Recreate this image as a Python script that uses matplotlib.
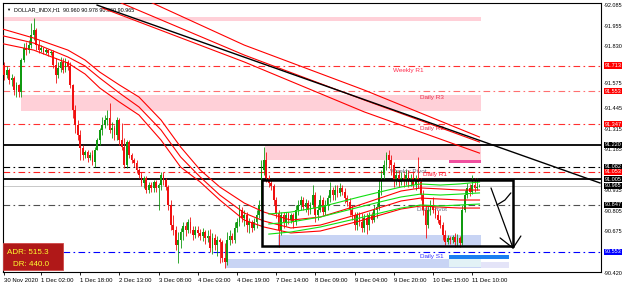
import numpy as np
import matplotlib.pyplot as plt
from matplotlib.patches import Rectangle
from matplotlib.transforms import blended_transform_factory

# ---- data (DOLLAR_INDX, H1) ----
first_open = 91.716
closes = [91.654, 91.685, 91.623, 91.635, 91.560, 91.592, 91.548, 91.747, 91.822, 91.809,
          91.840, 91.903, 91.934, 91.840, 91.809, 91.822, 91.797, 91.809, 91.791, 91.797,
          91.716, 91.654, 91.697, 91.735, 91.685, 91.735, 91.710, 91.592, 91.436, 91.343,
          91.280, 91.200, 91.156, 91.175, 91.137, 91.156, 91.112, 91.187, 91.249, 91.312,
          91.343, 91.374, 91.386, 91.312, 91.324, 91.280, 91.374, 91.249, 91.206, 91.094,
          91.237, 91.156, 91.125, 91.106, 91.063, 91.032, 90.982, 91.013, 90.938, 90.969,
          90.951, 90.988, 90.951, 90.969, 91.032, 91.000, 90.957, 90.845, 90.720, 90.689,
          90.596, 90.627, 90.677, 90.714, 90.689, 90.739, 90.689, 90.658, 90.689, 90.671,
          90.652, 90.677, 90.640, 90.652, 90.577, 90.640, 90.596, 90.627, 90.615, 90.515,
          90.490, 90.627, 90.652, 90.627, 90.702, 90.739, 90.814, 90.764, 90.783, 90.720,
          90.739, 90.702, 90.739, 90.783, 90.845, 91.063, 91.125, 91.013, 90.982, 90.963,
          90.876, 90.795, 90.689, 90.783, 90.739, 90.783, 90.751, 90.783, 90.739, 90.814,
          90.845, 90.876, 90.832, 90.857, 90.814, 90.845, 90.907, 90.783, 90.814, 90.876,
          90.801, 90.845, 90.888, 90.938, 90.907, 90.938, 90.920, 90.951, 90.926, 90.888,
          90.864, 90.814, 90.783, 90.720, 90.783, 90.739, 90.702, 90.764, 90.720, 90.783,
          90.751, 90.814, 90.832, 90.938, 91.032, 91.094, 91.156, 91.125, 91.094, 91.000,
          91.032, 90.988, 91.013, 91.000, 91.032, 90.988, 91.013, 90.969, 91.013, 90.988,
          90.907, 90.814, 90.720, 90.814, 90.845, 90.814, 90.783, 90.751, 90.720, 90.658,
          90.615, 90.640, 90.627, 90.646, 90.615, 90.640, 90.608, 90.814, 90.907, 90.951,
          90.926, 90.969, 90.951, 90.960, 90.965]
highs = [91.735, 91.710, 91.697, 91.660, 91.648, 91.610, 91.598, 91.760, 91.853, 91.859,
         91.872, 91.977, 92.008, 91.946, 91.872, 91.840, 91.828, 91.822, 91.816, 91.809,
         91.809, 91.760, 91.735, 91.766, 91.760, 91.760, 91.747, 91.735, 91.598, 91.467,
         91.374, 91.312, 91.218, 91.187, 91.187, 91.175, 91.187, 91.206, 91.262, 91.324,
         91.392, 91.405, 91.436, 91.480, 91.361, 91.343, 91.392, 91.386, 91.355, 91.262,
         91.249, 91.249, 91.168, 91.137, 91.125, 91.075, 91.050, 91.025, 91.025, 90.988,
         90.988, 91.000, 91.000, 90.982, 91.050, 91.050, 91.013, 90.969, 90.876, 90.783,
         90.714, 90.677, 90.702, 90.739, 90.739, 90.758, 90.770, 90.714, 90.714, 90.714,
         90.695, 90.702, 90.689, 90.689, 90.695, 90.671, 90.664, 90.652, 90.640, 90.627,
         90.608, 90.677, 90.689, 90.671, 90.739, 90.764, 90.845, 90.832, 90.814, 90.801,
         90.764, 90.751, 90.764, 90.814, 90.876, 91.125, 91.206, 91.175, 91.032, 91.000,
         90.976, 90.895, 90.814, 90.801, 90.801, 90.801, 90.801, 90.795, 90.795, 90.845,
         90.876, 90.901, 90.895, 90.882, 90.876, 90.864, 90.969, 90.926, 90.845, 90.907,
         90.895, 90.876, 90.907, 90.988, 90.957, 90.969, 90.969, 90.982, 90.969, 90.951,
         90.907, 90.888, 90.845, 90.801, 90.801, 90.801, 90.795, 90.789, 90.795, 90.801,
         90.801, 90.845, 90.857, 91.000, 91.063, 91.125, 91.175, 91.187, 91.156, 91.112,
         91.063, 91.063, 91.050, 91.044, 91.063, 91.063, 91.038, 91.050, 91.032, 91.144,
         91.013, 90.938, 90.845, 90.845, 90.876, 90.895, 90.832, 90.814, 90.783, 90.739,
         90.689, 90.658, 90.652, 90.658, 90.671, 90.664, 90.652, 90.845, 90.938, 90.982,
         90.976, 91.032, 91.013, 91.013, 90.978]
lows = [91.623, 91.635, 91.598, 91.585, 91.529, 91.517, 91.517, 91.517, 91.735, 91.778,
        91.791, 91.822, 91.872, 91.809, 91.791, 91.797, 91.784, 91.784, 91.772, 91.778,
        91.697, 91.604, 91.635, 91.672, 91.666, 91.672, 91.685, 91.573, 91.386, 91.293,
        91.249, 91.125, 91.125, 91.137, 91.112, 91.125, 91.094, 91.081, 91.187, 91.218,
        91.280, 91.324, 91.343, 91.293, 91.262, 91.249, 91.249, 91.218, 91.187, 91.075,
        91.075, 91.137, 91.106, 91.081, 91.044, 91.013, 90.963, 90.951, 90.920, 90.920,
        90.926, 90.926, 90.926, 90.814, 90.938, 90.969, 90.938, 90.814, 90.689, 90.658,
        90.565, 90.484, 90.577, 90.627, 90.652, 90.671, 90.671, 90.627, 90.640, 90.646,
        90.627, 90.621, 90.602, 90.615, 90.552, 90.540, 90.565, 90.528, 90.484, 90.490,
        90.453, 90.471, 90.596, 90.608, 90.608, 90.677, 90.714, 90.739, 90.714, 90.677,
        90.671, 90.677, 90.689, 90.702, 90.764, 90.814, 91.032, 90.988, 90.957, 90.938,
        90.845, 90.764, 90.584, 90.658, 90.702, 90.714, 90.727, 90.733, 90.702, 90.720,
        90.783, 90.814, 90.814, 90.801, 90.783, 90.789, 90.826, 90.739, 90.751, 90.801,
        90.783, 90.783, 90.814, 90.864, 90.876, 90.876, 90.895, 90.901, 90.907, 90.857,
        90.839, 90.783, 90.751, 90.689, 90.689, 90.714, 90.677, 90.677, 90.664, 90.689,
        90.733, 90.739, 90.764, 90.814, 90.907, 91.000, 91.063, 91.075, 91.032, 90.957,
        90.969, 90.957, 90.969, 90.957, 90.969, 90.957, 90.963, 90.951, 90.938, 90.951,
        90.876, 90.783, 90.640, 90.702, 90.783, 90.795, 90.764, 90.733, 90.702, 90.627,
        90.596, 90.602, 90.602, 90.608, 90.584, 90.590, 90.584, 90.596, 90.801, 90.888,
        90.901, 90.913, 90.926, 90.938, 90.960]

# slow envelope (red), bar index and upper/mid/lower price
env_bars = [-2, 12, 26, 33, 39, 47, 55, 64, 72, 80, 88, 98, 106, 117, 129, 145, 162, 170, 178, 186, 194]
env_up = [91.946, 91.884, 91.809, 91.747, 91.672, 91.592, 91.517, 91.374, 91.206, 91.063, 90.957,
          90.857, 90.801, 90.751, 90.770, 90.845, 90.932, 90.951, 90.945, 90.938, 90.938]
env_mid = [91.903, 91.853, 91.766, 91.710, 91.635, 91.542, 91.455, 91.312, 91.144, 91.019, 90.907,
           90.795, 90.745, 90.702, 90.720, 90.789, 90.870, 90.888, 90.882, 90.876, 90.876]
env_lo = [91.853, 91.809, 91.728, 91.660, 91.573, 91.486, 91.405, 91.249, 91.081, 90.988, 90.876,
          90.751, 90.708, 90.671, 90.683, 90.745, 90.820, 90.839, 90.832, 90.826, 90.826]

# fast envelope (green) in the box
fast_bars = [108, 117, 129, 145, 155, 162, 170, 178, 186, 194]
fast_up = [90.789, 90.801, 90.832, 90.895, 90.932, 90.957, 90.976, 90.969, 90.976, 90.988]
fast_mid = [90.727, 90.739, 90.770, 90.832, 90.870, 90.895, 90.913, 90.907, 90.913, 90.920]
fast_lo = [90.664, 90.677, 90.708, 90.764, 90.801, 90.826, 90.845, 90.839, 90.845, 90.851]

# long channel (red)
chan_bars = [40, 98, 147, 194]
chan_up = [92.245, 91.840, 91.560, 91.268]
chan_mid = [92.152, 91.778, 91.498, 91.237]
chan_lo = [92.071, 91.735, 91.424, 91.168]

trend_line = [(37.9, 92.089), (243.2, 90.982)]

levels = [91.713, 91.553, 91.347, 91.220, 91.082, 91.053, 91.005, 90.965, 90.847, 90.553]
level_cols = ['#ff3030', '#ff7070', '#ff3030', 'black', 'black', '#ff2020', 'black', '#c8c8c8', '#505050', '#0000ff']
level_styles = ['dd', 'dd', 'dd', 'solid', 'dd', 'dd', 'solid', 'solid', 'dd', 'dd']
label_bg = ['#ff0000', '#ff0000', '#ff0000', 'black', 'black', '#ff0000', 'black', 'black', 'black', '#0000ff']

pivot_names = ['Weekly R1', 'Daily R3', 'Daily R2', 'Weekly Pivot', 'Daily R1', 'Daily Pivot', 'Daily S1']
pivot_bars = [158.7, 169.7, 169.7, 157.5, 170.9, 168.5, 169.7]
pivot_prices = [91.679, 91.517, 91.318, 91.053, 91.032, 90.814, 90.527]
pivot_cols = ['#ff3050', '#e8304c', '#e8304c', '#6a6a80', '#ff2040', '#6a6a80', '#3030ff']

# zones: (bar0, bar1, price_lo, price_hi, colour)
zones = [(-0.5, 194.5, 91.990, 92.015, '#ffd0d8'),
         (6.8, 194.5, 91.430, 91.529, '#ffd0d8'),
         (106.4, 194.5, 91.125, 91.218, '#ffd0d8'),
         (181.5, 194.8, 91.106, 91.125, '#f050a0'),
         (111.7, 194.5, 90.590, 90.658, '#c8d4f4'),
         (90.5, 194.5, 90.453, 90.509, '#c8d4f4'),
         (181.5, 194.5, 90.459, 90.509, '#e2f2f6'),
         (194.5, 206.0, 90.453, 90.490, '#e4e4f8'),
         (181.5, 206.0, 90.509, 90.534, '#1a7ff0')]

box = (105.2, 207.7, 90.590, 91.000)
# hand-drawn arrow: shaft, hook and head (bar, price)
arrow_shaft = [(198.7, 90.951), (207.7, 90.577)]
arrow_hook = [(201.1, 90.845), (204.4, 90.876), (206.8, 90.920)]
arrow_head = [(202.4, 90.640), (207.7, 90.577), (210.9, 90.652)]

# right scale labels (91.575 sits just above the 91.553 tag, as in the screenshot)
price_ticks = [92.085, 91.957, 91.829, 91.600, 91.445, 91.317, 91.189, 90.933, 90.805, 90.677, 90.421]
price_labels = ['92.085', '91.955', '91.830', '91.575', '91.445', '91.315', '91.185', '90.935', '90.805', '90.675', '90.420']
time_ticks = [0, 15, 31, 47, 63, 79, 95, 111, 127, 143, 159, 175, 191]
time_labels = ['30 Nov 2020', '1 Dec 02:00', '1 Dec 18:00', '2 Dec 13:00', '3 Dec 08:00', '4 Dec 03:00',
               '4 Dec 19:00', '7 Dec 14:00', '8 Dec 09:00', '9 Dec 04:00', '9 Dec 20:00', '10 Dec 15:00', '11 Dec 10:00']

plt.rcParams['font.family'] = ['Liberation Sans', 'DejaVu Sans']

fig = plt.figure(figsize=(6.25, 2.88), dpi=100)
ax = fig.add_axes([3 / 625, 16 / 288, 598 / 625, 269 / 288])
ax.set_xlim(-0.5, 243.6)
ax.set_ylim(90.428, 92.102)

for x0, x1, lo, hi, col in zones:
    ax.add_patch(Rectangle((x0, lo), x1 - x0, hi - lo, color=col, lw=0, zorder=1))

dd = (0, (6, 3, 1.5, 3))
for lv, col, st in zip(levels, level_cols, level_styles):
    if st == 'dd':
        ax.axhline(lv, color=col, lw=0.8, ls=dd, zorder=2)
    else:
        ax.axhline(lv, color=col, lw=1.3 if col == 'black' else 0.7, zorder=2)

for name, b, p, col in zip(pivot_names, pivot_bars, pivot_prices, pivot_cols):
    ax.text(b, p, name, color=col, fontsize=4.6, va='center', ha='left', zorder=3)

# candles
o = np.r_[first_open, closes[:-1]]
c = np.array(closes)
h = np.maximum(np.array(highs), np.maximum(o, c))
l = np.minimum(np.array(lows), np.minimum(o, c))
idx = np.arange(len(c))
up = c >= o
cols = np.where(up, '#109a10', '#f01010')
ax.vlines(idx, l, h, colors=cols, lw=0.6, zorder=4)
ax.bar(idx, np.maximum(np.abs(c - o), 0.003), bottom=np.minimum(o, c), width=0.72, color=cols, lw=0, zorder=4)

# indicator lines
for ys in (env_up, env_mid, env_lo):
    ax.plot(env_bars, ys, color='#ff0000', lw=0.8, zorder=5)
for ys in (fast_up, fast_mid, fast_lo):
    ax.plot(fast_bars, ys, color='#10e010', lw=0.8, zorder=5)
for ys in (chan_up, chan_mid, chan_lo):
    ax.plot(chan_bars, ys, color='#ff0000', lw=0.8, zorder=5)
ax.plot([trend_line[0][0], trend_line[1][0]], [trend_line[0][1], trend_line[1][1]], color='black', lw=1.0, zorder=5)

# analysis box and arrow
bx0, bx1, by0, by1 = box
ax.add_patch(Rectangle((bx0, by0), bx1 - bx0, by1 - by0, fill=False, ec='black', lw=1.8, zorder=6))
for pts in (arrow_shaft, arrow_hook, arrow_head):
    ax.plot([q[0] for q in pts], [q[1] for q in pts], color='black', lw=0.9, zorder=6,
            solid_capstyle='round', solid_joinstyle='round')

# axes look
for s in ax.spines.values():
    s.set_linewidth(0.8)
ax.set_xticks(time_ticks)
ax.set_xticklabels(time_labels, fontsize=4.3, ha='left')
ax.tick_params(axis='x', length=2, width=0.6, pad=2)
ax.set_yticks([])
tr = blended_transform_factory(ax.transAxes, ax.transData)
for v, lab in zip(price_ticks, price_labels):
    ax.text(1.004, v, '-' + lab, transform=tr, fontsize=4.0, va='center', ha='left', clip_on=False)
for v, bg in zip(levels, label_bg):
    ax.text(1.006, v, '%.3f' % v, transform=tr, fontsize=4.0, va='center', ha='left', color='white',
            bbox=dict(boxstyle='square,pad=0.1', fc=bg, ec='none'), clip_on=False, zorder=10)

ax.text(0.018, 0.985, 'DOLLAR_INDX,H1  90.960 90.978 90.960 90.965', transform=ax.transAxes,
        fontsize=3.9, va='top', ha='left')
ax.text(0.006, 0.983, '\u25bc', transform=ax.transAxes, fontsize=3, va='top', ha='left')

# ADR panel
ax.add_patch(Rectangle((0.0, 0.007), 0.1, 0.101, transform=ax.transAxes, fc='#b01818', ec='#d04848',
                       lw=0.6, zorder=10))
ax.text(0.007, 0.074, 'ADR: 515.3', transform=ax.transAxes, fontsize=5.8, color='#ffff30',
        va='center', ha='left', zorder=11)
ax.text(0.017, 0.027, 'DR: 440.0', transform=ax.transAxes, fontsize=5.8, color='#ffff30',
        va='center', ha='left', zorder=11)

fig.savefig('out.png', dpi=100)
